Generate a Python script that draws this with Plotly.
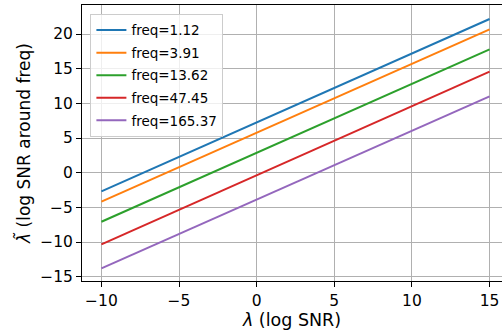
import plotly.graph_objects as go

lam = [-10, 15]
freq_labels = ["freq=1.12", "freq=3.91", "freq=13.62", "freq=47.45", "freq=165.37"]
series = [
    [-2.68, 22.17],
    [-4.18, 20.68],
    [-7.07, 17.80],
    [-10.33, 14.57],
    [-13.79, 11.02],
]
colors = ["#1f77b4", "#ff7f0e", "#2ca02c", "#d62728", "#9467bd"]
xticks = [-10, -5, 0, 5, 10, 15]
yticks = [-15, -10, -5, 0, 5, 10, 15, 20]

fig = go.Figure()
for i, (name, ys, c) in enumerate(zip(freq_labels, series, colors)):
    fig.add_trace(go.Scatter(x=lam, y=ys, mode="lines", name=name, legendgroup=f"g{i}",
                             line=dict(color=c, width=2)))

font = "DejaVu Sans"
fig.update_layout(
    width=502, height=330,
    margin=dict(l=82, r=0, t=5, b=49),
    paper_bgcolor="white", plot_bgcolor="white",
    font=dict(family=font, size=15.5, color="black"),
    showlegend=True,
    legend=dict(x=0.02, y=0.968, xanchor="left", yanchor="top",
                bgcolor="rgba(255,255,255,0.8)", bordercolor="#cccccc", borderwidth=1,
                font=dict(size=13.5, family=font), itemwidth=30, tracegroupgap=2),
)
fig.update_xaxes(
    range=[-11.25, 15.8], tickvals=xticks, ticks="outside", ticklen=5, tickwidth=1,
    tickcolor="black", showline=True, linecolor="black", linewidth=1, mirror=True,
    showgrid=True, gridcolor="#b0b0b0", gridwidth=1, zeroline=False, automargin=False,
    title=dict(text="<i>λ</i> (log SNR)", standoff=2, font=dict(size=17.5)),
    tickfont=dict(size=15.5),
)
fig.update_yaxes(
    range=[-15.62, 24.19], tickvals=yticks, ticks="outside", ticklen=5, tickwidth=1,
    tickcolor="black", showline=True, linecolor="black", linewidth=1, mirror=False,
    showgrid=True, gridcolor="#b0b0b0", gridwidth=1, zeroline=False, automargin=False,
    title=dict(text="<i>λ̃</i> (log SNR around freq)", standoff=5, font=dict(size=17)),
    tickfont=dict(size=15.5),
)
fig.write_html("out.html", config={"displayModeBar": False},
               post_script="document.body.style.margin='0';")
